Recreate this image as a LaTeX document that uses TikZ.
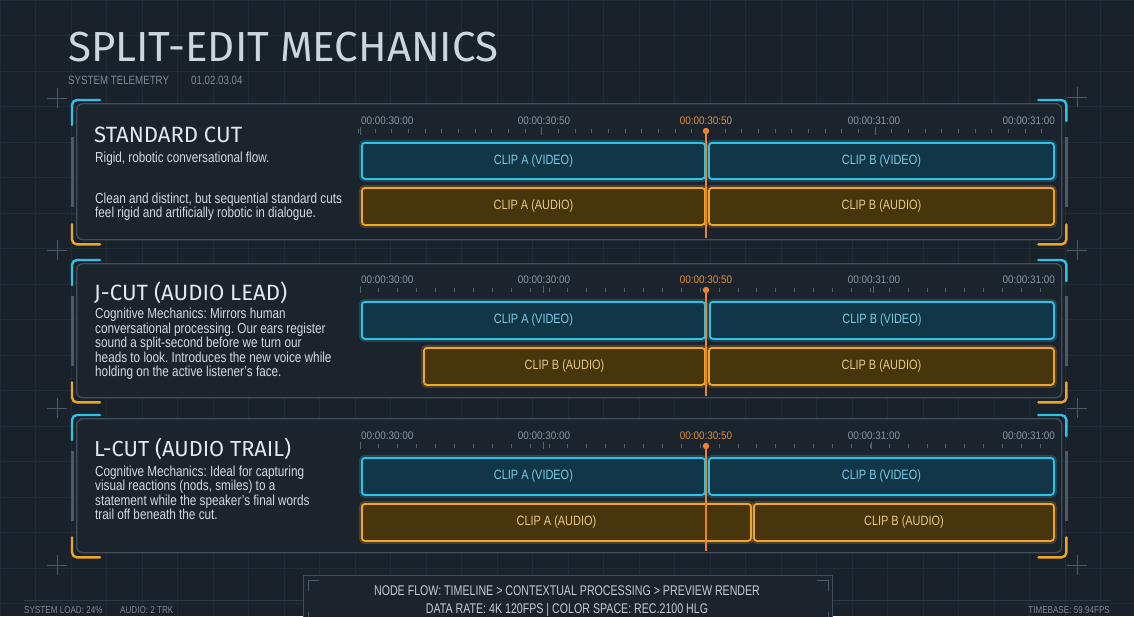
\documentclass[tikz,border=0pt]{standalone}
\usepackage{fontspec}
\usetikzlibrary{calc}
\setmainfont{Liberation Sans}
\newfontfamily\condfont[FakeStretch=0.81]{Liberation Sans}
\newfontfamily\footfont[FakeStretch=0.76]{Liberation Sans}
\newfontfamily\labfont[FakeStretch=0.9]{Liberation Sans}
\newfontfamily\headfont{Fira Sans}
\frenchspacing
\definecolor{bgcol}{HTML}{19212A}
\definecolor{gridcol}{HTML}{222C36}
\definecolor{panelfill}{HTML}{1B232C}
\definecolor{panelline}{HTML}{424E5A}
\definecolor{cyanc}{HTML}{2CC3E8}
\definecolor{vfill}{HTML}{103647}
\definecolor{vtext}{HTML}{7DCBE3}
\definecolor{orc}{HTML}{EFA526}
\definecolor{afill}{HTML}{47350C}
\definecolor{atext}{HTML}{E8C98A}
\definecolor{playc}{HTML}{F0822A}
\definecolor{tlab}{HTML}{8B97A3}
\definecolor{tlabor}{HTML}{E0913F}
\definecolor{titlec}{HTML}{CBD6DF}
\definecolor{headc}{HTML}{E2E8EE}
\definecolor{bodyc}{HTML}{D3DAE0}
\definecolor{dimc}{HTML}{7F8B97}
\definecolor{tickc}{HTML}{56616C}
\definecolor{barc}{HTML}{4D5966}
\definecolor{footc}{HTML}{C3CCD4}
\newcommand\mkclipbox[7]{%
  \node[#1, anchor=north west, minimum width=#5pt-#3pt, minimum height=#6pt-#4pt] (#2) at (#3,#4) {#7};}
\newcommand\mkbrackets[1]{%
  \draw[accent, cyanc, rounded corners=5pt] ($(#1.north west)+(-4,22)$) |- ($(#1.north west)+(24,-3)$);
  \draw[accent, cyanc, rounded corners=5pt] ($(#1.north east)+(-24,-3)$) -| ($(#1.north east)+(4,18)$);
  \draw[accent, orc, rounded corners=5pt] ($(#1.south west)+(-4,-16)$) |- ($(#1.south west)+(24,4)$);
  \draw[accent, orc, rounded corners=5pt] ($(#1.south east)+(-24,4)$) -| ($(#1.south east)+(4,-16)$);
  \draw[sidebar] ($(#1.west)+(-4,-35)$) -- ($(#1.west)+(-4,35)$);
  \draw[sidebar] ($(#1.east)+(4,-35)$) -- ($(#1.east)+(4,35)$);}
\begin{document}
\begin{tikzpicture}[x=1pt,y=-1pt,
  gridline/.style={draw=gridcol, line width=0.7pt},
  panel/.style={draw=panelline, fill=panelfill, line width=1.4pt, rounded corners=6pt, inner sep=0},
  accent/.style={line width=2.4pt, line cap=round},
  sidebar/.style={draw=barc, line width=3pt},
  cross/.style={draw=barc, line width=0.9pt},
  vclip/.style={draw=cyanc, fill=vfill, line width=1.8pt, rounded corners=3pt, inner sep=0, text=vtext,
     font=\condfont\fontsize{13.5}{14}\selectfont, preaction={draw=cyanc, draw opacity=0.22, line width=6pt}},
  aclip/.style={draw=orc, fill=afill, line width=1.8pt, rounded corners=3pt, inner sep=0, text=atext,
     font=\condfont\fontsize{13.5}{14}\selectfont, preaction={draw=orc, draw opacity=0.22, line width=6pt}},
  tlabel/.style={inner sep=0, text=tlab, font=\labfont\fontsize{11}{12}\selectfont},
  tlabelor/.style={inner sep=0, text=tlabor, font=\labfont\fontsize{11}{12}\selectfont},
  tick/.style={draw=tickc, line width=0.9pt},
  playhead/.style={draw=playc, line width=1.6pt},
  headtxt/.style={inner sep=0, text=headc, anchor=base west},
  bodytxt/.style={inner sep=0, text=bodyc, align=left, font=\condfont\fontsize{14.5}{14.5}\selectfont},
  smalltxt/.style={inner sep=0, text=dimc, font=\condfont\fontsize{10}{12}\selectfont},
  foottxt/.style={inner sep=0, text=footc, font=\footfont\fontsize{14}{16}\selectfont, anchor=base}
]
\useasboundingbox (0,0) rectangle (1134,616);
\fill[bgcol] (0,0) rectangle (1134,616);
\foreach \i in {0,...,32} \draw[gridline] (\i*35.5,0) -- (\i*35.5,616);
\foreach \j in {0,...,17} \draw[gridline] (0,\j*35.5) -- (1134,\j*35.5);
% crosshairs
\foreach \cx/\cy in {57/98, 1077/97, 57/250, 1077/250, 57/408, 1077/408, 57/565, 1077/565}
  {\draw[cross] (\cx-10,\cy) -- (\cx+10,\cy); \draw[cross] (\cx,\cy-10) -- (\cx,\cy+10);}
% title
\node[inner sep=0, anchor=base west, text=titlec] (title) at (68,61) {\resizebox{430pt}{!}{\headfont SPLIT-EDIT MECHANICS}};
\node[inner sep=0, anchor=base west, text=dimc, font=\condfont\fontsize{12}{14}\selectfont] (tele) at (68,84) {SYSTEM TELEMETRY};
\node[inner sep=0, anchor=base west, text=dimc, font=\condfont\fontsize{12}{14}\selectfont] (code) at (191,84) {01.02.03.04};
% panels
\node[panel, anchor=north west, minimum width=985pt, minimum height=136pt] (p1) at (76,103) {};
\node[panel, anchor=north west, minimum width=985pt, minimum height=134pt] (p2) at (76,263) {};
\node[panel, anchor=north west, minimum width=985pt, minimum height=134pt] (p3) at (76,418) {};
\mkbrackets{p1}
\mkbrackets{p2}
\mkbrackets{p3}
% ---------- panel 1 text
\node[headtxt] (h1) at (94,142) {\resizebox{148pt}{!}{\headfont STANDARD CUT}};
\node[bodytxt, anchor=base west] (s1) at (95,162.5) {Rigid, robotic conversational flow.};
\node[bodytxt, anchor=north west] (d1) at (95,192.4) {\rule{0pt}{10.6pt}Clean and distinct, but sequential standard cuts\\feel rigid and artificially robotic in dialogue.};
% ---------- panel 2 text
\node[headtxt] (h2) at (94,300) {\resizebox{193pt}{!}{\headfont J-CUT (AUDIO LEAD)}};
\node[bodytxt, anchor=north west] (d2) at (95,307.9) {\rule{0pt}{10.6pt}Cognitive Mechanics: Mirrors human\\conversational processing. Our ears register\\sound a split-second before we turn our\\heads to look. Introduces the new voice while\\holding on the active listener’s face.};
% ---------- panel 3 text
\node[headtxt] (h3) at (94,456.5) {\resizebox{197pt}{!}{\headfont L-CUT (AUDIO TRAIL)}};
\node[bodytxt, anchor=north west] (d3) at (95,465.4) {\rule{0pt}{10.6pt}Cognitive Mechanics: Ideal for capturing\\visual reactions (nods, smiles) to a\\statement while the speaker’s final words\\trail off beneath the cut.};
% ---------- time labels
\foreach \p/\yy/\second in {1/124/00:00:30:50, 2/283/00:00:30:00, 3/439/00:00:30:00} {
  \node[tlabel, anchor=base west] (p\p t1) at (361,\yy) {00:00:30:00};
  \node[tlabel, anchor=base] (p\p t2) at (544,\yy) {\second};
  \node[tlabelor, anchor=base] (p\p t3) at (706,\yy) {00:00:30:50};
  \node[tlabel, anchor=base] (p\p t4) at (874,\yy) {00:00:31:00};
  \node[tlabel, anchor=base east] (p\p t5) at (1055,\yy) {00:00:31:00};
}
% ---------- ticks
\foreach \k in {0,...,41} \draw[tick] (358.3+16.67*\k,129) -- (358.3+16.67*\k,133);
\foreach \xx in {360,541.7,875} \draw[tick] (\xx,127) -- (\xx,135);
\foreach \k in {0,...,36} \draw[tick] (360+18.9*\k,288) -- (360+18.9*\k,292);
\foreach \xx in {360,543,873} \draw[tick] (\xx,286) -- (\xx,293);
\foreach \k in {0,...,36} \draw[tick] (360+18.9*\k,444) -- (360+18.9*\k,448);
\foreach \xx in {360,543,871} \draw[tick] (\xx,442) -- (\xx,449);
% ---------- clips panel 1
\mkclipbox{vclip}{p1va}{361}{142}{704}{178}{CLIP A (VIDEO)}
\mkclipbox{vclip}{p1vb}{708}{142}{1053}{178}{CLIP B (VIDEO)}
\mkclipbox{aclip}{p1aa}{361}{187}{704}{224}{CLIP A (AUDIO)}
\mkclipbox{aclip}{p1ab}{708}{187}{1053}{224}{CLIP B (AUDIO)}
% ---------- clips panel 2
\mkclipbox{vclip}{p2va}{361}{301}{704}{338}{CLIP A (VIDEO)}
\mkclipbox{vclip}{p2vb}{709}{301}{1053}{338}{CLIP B (VIDEO)}
\mkclipbox{aclip}{p2aa}{423}{347}{704}{384}{CLIP B (AUDIO)}
\mkclipbox{aclip}{p2ab}{708}{347}{1053}{384}{CLIP B (AUDIO)}
% ---------- clips panel 3
\mkclipbox{vclip}{p3va}{361}{457}{704}{494}{CLIP A (VIDEO)}
\mkclipbox{vclip}{p3vb}{708}{457}{1053}{494}{CLIP B (VIDEO)}
\mkclipbox{aclip}{p3aa}{361}{503}{750}{540}{CLIP A (AUDIO)}
\mkclipbox{aclip}{p3ab}{753}{503}{1053}{540}{CLIP B (AUDIO)}
% ---------- playheads
\coordinate (ph1) at (706,131); \coordinate (ph1b) at (706,238);
\coordinate (ph2) at (706,290); \coordinate (ph2b) at (706,396);
\coordinate (ph3) at (706,446); \coordinate (ph3b) at (706,551);
\foreach \n in {1,2,3} {
  \draw[playhead] (ph\n) -- (ph\n b);
  \fill[playc] (ph\n) circle (3.2pt);
}
% ---------- footer
\draw[draw=gridcol!60!panelline, line width=0.8pt] (24,600) -- (303,600);
\draw[draw=gridcol!60!panelline, line width=0.8pt] (832,600) -- (1111,600);
\node[draw=panelline, fill=panelfill, line width=1.2pt, anchor=north west, minimum width=529pt, minimum height=60pt, inner sep=0] (foot) at (303,575) {};
\draw[draw=barc, line width=1pt] ($(foot.north west)+(5,16)$) |- ($(foot.north west)+(16,5)$);
\draw[draw=barc, line width=1pt] ($(foot.north east)+(-16,5)$) -| ($(foot.north east)+(-5,16)$);
\draw[draw=barc, line width=1pt] ($(foot.north west)+(5,37)$) -- ($(foot.north west)+(5,45)$);
\draw[draw=barc, line width=1pt] ($(foot.north east)+(-5,37)$) -- ($(foot.north east)+(-5,45)$);
\node[foottxt] (f1) at (567,595) {NODE FLOW: TIMELINE > CONTEXTUAL PROCESSING > PREVIEW RENDER};
\node[foottxt] (f2) at (567,613) {DATA RATE: 4K 120FPS \textbar{} COLOR SPACE: REC.2100 HLG};
\node[smalltxt, anchor=base west] (sl) at (24,613) {SYSTEM LOAD: 24\%};
\node[smalltxt, anchor=base west] (au) at (120,613) {AUDIO: 2 TRK};
\node[smalltxt, anchor=base east] (tb) at (1110,613) {TIMEBASE: 59.94FPS};
\end{tikzpicture}
\end{document}
